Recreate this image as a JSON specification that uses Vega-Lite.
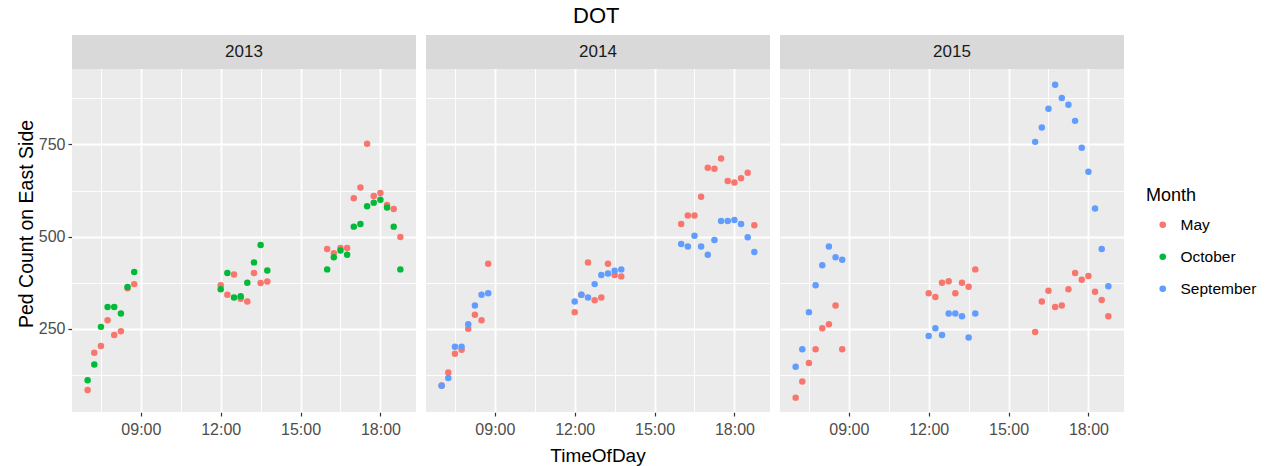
{
  "$schema": "https://vega.github.io/schema/vega-lite/v6.json",
  "padding": {"left": 16, "top": 5, "right": 5, "bottom": 0},
  "title": {"text": "DOT", "fontSize": 22, "font": "Liberation Sans", "fontWeight": "normal", "color": "#000000", "anchor": "start", "frame": "group", "dx": 501, "offset": 7},
  "config": {
    "font": "Liberation Sans",
    "view": {"fill": "#EBEBEB", "stroke": null},
    "axis": {"domain": false, "labelFont": "Liberation Sans", "titleFont": "Liberation Sans", "labelFontSize": 16, "labelColor": "#4D4D4D", "titleFontSize": 19.5, "titleColor": "#000000", "titleFontWeight": "normal", "tickSize": 4, "tickColor": "#333333", "tickWidth": 1.2, "gridColor": "#FFFFFF"},
    "legend": {"orient": "none", "legendX": 1074, "legendY": 152, "titleFontSize": 18, "titleFont": "Liberation Sans", "titleColor": "#000000", "titleFontWeight": "normal", "labelFontSize": 15.5, "labelFont": "Liberation Sans", "labelColor": "#000000", "symbolSize": 44, "symbolType": "circle", "rowPadding": 15, "symbolOffset": 9, "labelOffset": 10, "titlePadding": 12}
  },
  "data": {
    "format": {"parse": {"TimeOfDay": "date:'%H:%M'"}},
    "values": [
      {"Year": "2013", "Month": "May", "TimeOfDay": "07:00", "Count": 84},
      {"Year": "2013", "Month": "May", "TimeOfDay": "07:15", "Count": 185},
      {"Year": "2013", "Month": "May", "TimeOfDay": "07:30", "Count": 203},
      {"Year": "2013", "Month": "May", "TimeOfDay": "07:45", "Count": 273},
      {"Year": "2013", "Month": "May", "TimeOfDay": "08:00", "Count": 233},
      {"Year": "2013", "Month": "May", "TimeOfDay": "08:15", "Count": 243},
      {"Year": "2013", "Month": "May", "TimeOfDay": "08:30", "Count": 360},
      {"Year": "2013", "Month": "May", "TimeOfDay": "08:45", "Count": 371},
      {"Year": "2013", "Month": "May", "TimeOfDay": "12:00", "Count": 368},
      {"Year": "2013", "Month": "May", "TimeOfDay": "12:15", "Count": 342},
      {"Year": "2013", "Month": "May", "TimeOfDay": "12:30", "Count": 397},
      {"Year": "2013", "Month": "May", "TimeOfDay": "12:45", "Count": 331},
      {"Year": "2013", "Month": "May", "TimeOfDay": "13:00", "Count": 324},
      {"Year": "2013", "Month": "May", "TimeOfDay": "13:15", "Count": 401},
      {"Year": "2013", "Month": "May", "TimeOfDay": "13:30", "Count": 374},
      {"Year": "2013", "Month": "May", "TimeOfDay": "13:45", "Count": 378},
      {"Year": "2013", "Month": "May", "TimeOfDay": "16:00", "Count": 466},
      {"Year": "2013", "Month": "May", "TimeOfDay": "16:15", "Count": 455},
      {"Year": "2013", "Month": "May", "TimeOfDay": "16:30", "Count": 469},
      {"Year": "2013", "Month": "May", "TimeOfDay": "16:45", "Count": 469},
      {"Year": "2013", "Month": "May", "TimeOfDay": "17:00", "Count": 604},
      {"Year": "2013", "Month": "May", "TimeOfDay": "17:15", "Count": 633},
      {"Year": "2013", "Month": "May", "TimeOfDay": "17:30", "Count": 752},
      {"Year": "2013", "Month": "May", "TimeOfDay": "17:45", "Count": 610},
      {"Year": "2013", "Month": "May", "TimeOfDay": "18:00", "Count": 618},
      {"Year": "2013", "Month": "May", "TimeOfDay": "18:15", "Count": 586},
      {"Year": "2013", "Month": "May", "TimeOfDay": "18:30", "Count": 575},
      {"Year": "2013", "Month": "May", "TimeOfDay": "18:45", "Count": 499},
      {"Year": "2013", "Month": "October", "TimeOfDay": "07:00", "Count": 110},
      {"Year": "2013", "Month": "October", "TimeOfDay": "07:15", "Count": 153},
      {"Year": "2013", "Month": "October", "TimeOfDay": "07:30", "Count": 255},
      {"Year": "2013", "Month": "October", "TimeOfDay": "07:45", "Count": 309},
      {"Year": "2013", "Month": "October", "TimeOfDay": "08:00", "Count": 309},
      {"Year": "2013", "Month": "October", "TimeOfDay": "08:15", "Count": 291},
      {"Year": "2013", "Month": "October", "TimeOfDay": "08:30", "Count": 363},
      {"Year": "2013", "Month": "October", "TimeOfDay": "08:45", "Count": 404},
      {"Year": "2013", "Month": "October", "TimeOfDay": "12:00", "Count": 357},
      {"Year": "2013", "Month": "October", "TimeOfDay": "12:15", "Count": 401},
      {"Year": "2013", "Month": "October", "TimeOfDay": "12:30", "Count": 335},
      {"Year": "2013", "Month": "October", "TimeOfDay": "12:45", "Count": 338},
      {"Year": "2013", "Month": "October", "TimeOfDay": "13:00", "Count": 375},
      {"Year": "2013", "Month": "October", "TimeOfDay": "13:15", "Count": 430},
      {"Year": "2013", "Month": "October", "TimeOfDay": "13:30", "Count": 477},
      {"Year": "2013", "Month": "October", "TimeOfDay": "13:45", "Count": 408},
      {"Year": "2013", "Month": "October", "TimeOfDay": "16:00", "Count": 411},
      {"Year": "2013", "Month": "October", "TimeOfDay": "16:15", "Count": 444},
      {"Year": "2013", "Month": "October", "TimeOfDay": "16:30", "Count": 462},
      {"Year": "2013", "Month": "October", "TimeOfDay": "16:45", "Count": 451},
      {"Year": "2013", "Month": "October", "TimeOfDay": "17:00", "Count": 527},
      {"Year": "2013", "Month": "October", "TimeOfDay": "17:15", "Count": 534},
      {"Year": "2013", "Month": "October", "TimeOfDay": "17:30", "Count": 582},
      {"Year": "2013", "Month": "October", "TimeOfDay": "17:45", "Count": 592},
      {"Year": "2013", "Month": "October", "TimeOfDay": "18:00", "Count": 600},
      {"Year": "2013", "Month": "October", "TimeOfDay": "18:15", "Count": 579},
      {"Year": "2013", "Month": "October", "TimeOfDay": "18:30", "Count": 527},
      {"Year": "2013", "Month": "October", "TimeOfDay": "18:45", "Count": 411},
      {"Year": "2014", "Month": "May", "TimeOfDay": "07:00", "Count": 96},
      {"Year": "2014", "Month": "May", "TimeOfDay": "07:15", "Count": 131},
      {"Year": "2014", "Month": "May", "TimeOfDay": "07:30", "Count": 182},
      {"Year": "2014", "Month": "May", "TimeOfDay": "07:45", "Count": 193},
      {"Year": "2014", "Month": "May", "TimeOfDay": "08:00", "Count": 250},
      {"Year": "2014", "Month": "May", "TimeOfDay": "08:15", "Count": 288},
      {"Year": "2014", "Month": "May", "TimeOfDay": "08:30", "Count": 273},
      {"Year": "2014", "Month": "May", "TimeOfDay": "08:45", "Count": 426},
      {"Year": "2014", "Month": "May", "TimeOfDay": "12:00", "Count": 295},
      {"Year": "2014", "Month": "May", "TimeOfDay": "12:15", "Count": 342},
      {"Year": "2014", "Month": "May", "TimeOfDay": "12:30", "Count": 430},
      {"Year": "2014", "Month": "May", "TimeOfDay": "12:45", "Count": 327},
      {"Year": "2014", "Month": "May", "TimeOfDay": "13:00", "Count": 335},
      {"Year": "2014", "Month": "May", "TimeOfDay": "13:15", "Count": 426},
      {"Year": "2014", "Month": "May", "TimeOfDay": "13:30", "Count": 396},
      {"Year": "2014", "Month": "May", "TimeOfDay": "13:45", "Count": 392},
      {"Year": "2014", "Month": "May", "TimeOfDay": "16:00", "Count": 534},
      {"Year": "2014", "Month": "May", "TimeOfDay": "16:15", "Count": 557},
      {"Year": "2014", "Month": "May", "TimeOfDay": "16:30", "Count": 557},
      {"Year": "2014", "Month": "May", "TimeOfDay": "16:45", "Count": 608},
      {"Year": "2014", "Month": "May", "TimeOfDay": "17:00", "Count": 687},
      {"Year": "2014", "Month": "May", "TimeOfDay": "17:15", "Count": 684},
      {"Year": "2014", "Month": "May", "TimeOfDay": "17:30", "Count": 712},
      {"Year": "2014", "Month": "May", "TimeOfDay": "17:45", "Count": 651},
      {"Year": "2014", "Month": "May", "TimeOfDay": "18:00", "Count": 647},
      {"Year": "2014", "Month": "May", "TimeOfDay": "18:15", "Count": 658},
      {"Year": "2014", "Month": "May", "TimeOfDay": "18:30", "Count": 673},
      {"Year": "2014", "Month": "May", "TimeOfDay": "18:45", "Count": 531},
      {"Year": "2014", "Month": "September", "TimeOfDay": "07:00", "Count": 95},
      {"Year": "2014", "Month": "September", "TimeOfDay": "07:15", "Count": 116},
      {"Year": "2014", "Month": "September", "TimeOfDay": "07:30", "Count": 201},
      {"Year": "2014", "Month": "September", "TimeOfDay": "07:45", "Count": 201},
      {"Year": "2014", "Month": "September", "TimeOfDay": "08:00", "Count": 262},
      {"Year": "2014", "Month": "September", "TimeOfDay": "08:15", "Count": 313},
      {"Year": "2014", "Month": "September", "TimeOfDay": "08:30", "Count": 342},
      {"Year": "2014", "Month": "September", "TimeOfDay": "08:45", "Count": 346},
      {"Year": "2014", "Month": "September", "TimeOfDay": "12:00", "Count": 324},
      {"Year": "2014", "Month": "September", "TimeOfDay": "12:15", "Count": 342},
      {"Year": "2014", "Month": "September", "TimeOfDay": "12:30", "Count": 335},
      {"Year": "2014", "Month": "September", "TimeOfDay": "12:45", "Count": 371},
      {"Year": "2014", "Month": "September", "TimeOfDay": "13:00", "Count": 396},
      {"Year": "2014", "Month": "September", "TimeOfDay": "13:15", "Count": 400},
      {"Year": "2014", "Month": "September", "TimeOfDay": "13:30", "Count": 407},
      {"Year": "2014", "Month": "September", "TimeOfDay": "13:45", "Count": 411},
      {"Year": "2014", "Month": "September", "TimeOfDay": "16:00", "Count": 480},
      {"Year": "2014", "Month": "September", "TimeOfDay": "16:15", "Count": 473},
      {"Year": "2014", "Month": "September", "TimeOfDay": "16:30", "Count": 502},
      {"Year": "2014", "Month": "September", "TimeOfDay": "16:45", "Count": 473},
      {"Year": "2014", "Month": "September", "TimeOfDay": "17:00", "Count": 451},
      {"Year": "2014", "Month": "September", "TimeOfDay": "17:15", "Count": 491},
      {"Year": "2014", "Month": "September", "TimeOfDay": "17:30", "Count": 542},
      {"Year": "2014", "Month": "September", "TimeOfDay": "17:45", "Count": 542},
      {"Year": "2014", "Month": "September", "TimeOfDay": "18:00", "Count": 545},
      {"Year": "2014", "Month": "September", "TimeOfDay": "18:15", "Count": 534},
      {"Year": "2014", "Month": "September", "TimeOfDay": "18:30", "Count": 498},
      {"Year": "2014", "Month": "September", "TimeOfDay": "18:45", "Count": 458},
      {"Year": "2015", "Month": "May", "TimeOfDay": "07:00", "Count": 63},
      {"Year": "2015", "Month": "May", "TimeOfDay": "07:15", "Count": 107},
      {"Year": "2015", "Month": "May", "TimeOfDay": "07:30", "Count": 157},
      {"Year": "2015", "Month": "May", "TimeOfDay": "07:45", "Count": 194},
      {"Year": "2015", "Month": "May", "TimeOfDay": "08:00", "Count": 251},
      {"Year": "2015", "Month": "May", "TimeOfDay": "08:15", "Count": 262},
      {"Year": "2015", "Month": "May", "TimeOfDay": "08:30", "Count": 313},
      {"Year": "2015", "Month": "May", "TimeOfDay": "08:45", "Count": 194},
      {"Year": "2015", "Month": "May", "TimeOfDay": "12:00", "Count": 346},
      {"Year": "2015", "Month": "May", "TimeOfDay": "12:15", "Count": 336},
      {"Year": "2015", "Month": "May", "TimeOfDay": "12:30", "Count": 375},
      {"Year": "2015", "Month": "May", "TimeOfDay": "12:45", "Count": 379},
      {"Year": "2015", "Month": "May", "TimeOfDay": "13:00", "Count": 346},
      {"Year": "2015", "Month": "May", "TimeOfDay": "13:15", "Count": 375},
      {"Year": "2015", "Month": "May", "TimeOfDay": "13:30", "Count": 364},
      {"Year": "2015", "Month": "May", "TimeOfDay": "13:45", "Count": 411},
      {"Year": "2015", "Month": "May", "TimeOfDay": "16:00", "Count": 241},
      {"Year": "2015", "Month": "May", "TimeOfDay": "16:15", "Count": 324},
      {"Year": "2015", "Month": "May", "TimeOfDay": "16:30", "Count": 353},
      {"Year": "2015", "Month": "May", "TimeOfDay": "16:45", "Count": 309},
      {"Year": "2015", "Month": "May", "TimeOfDay": "17:00", "Count": 313},
      {"Year": "2015", "Month": "May", "TimeOfDay": "17:15", "Count": 357},
      {"Year": "2015", "Month": "May", "TimeOfDay": "17:30", "Count": 401},
      {"Year": "2015", "Month": "May", "TimeOfDay": "17:45", "Count": 383},
      {"Year": "2015", "Month": "May", "TimeOfDay": "18:00", "Count": 393},
      {"Year": "2015", "Month": "May", "TimeOfDay": "18:15", "Count": 350},
      {"Year": "2015", "Month": "May", "TimeOfDay": "18:30", "Count": 328},
      {"Year": "2015", "Month": "May", "TimeOfDay": "18:45", "Count": 284},
      {"Year": "2015", "Month": "September", "TimeOfDay": "07:00", "Count": 147},
      {"Year": "2015", "Month": "September", "TimeOfDay": "07:15", "Count": 194},
      {"Year": "2015", "Month": "September", "TimeOfDay": "07:30", "Count": 295},
      {"Year": "2015", "Month": "September", "TimeOfDay": "07:45", "Count": 368},
      {"Year": "2015", "Month": "September", "TimeOfDay": "08:00", "Count": 422},
      {"Year": "2015", "Month": "September", "TimeOfDay": "08:15", "Count": 473},
      {"Year": "2015", "Month": "September", "TimeOfDay": "08:30", "Count": 444},
      {"Year": "2015", "Month": "September", "TimeOfDay": "08:45", "Count": 437},
      {"Year": "2015", "Month": "September", "TimeOfDay": "12:00", "Count": 230},
      {"Year": "2015", "Month": "September", "TimeOfDay": "12:15", "Count": 251},
      {"Year": "2015", "Month": "September", "TimeOfDay": "12:30", "Count": 233},
      {"Year": "2015", "Month": "September", "TimeOfDay": "12:45", "Count": 291},
      {"Year": "2015", "Month": "September", "TimeOfDay": "13:00", "Count": 291},
      {"Year": "2015", "Month": "September", "TimeOfDay": "13:15", "Count": 284},
      {"Year": "2015", "Month": "September", "TimeOfDay": "13:30", "Count": 226},
      {"Year": "2015", "Month": "September", "TimeOfDay": "13:45", "Count": 291},
      {"Year": "2015", "Month": "September", "TimeOfDay": "16:00", "Count": 757},
      {"Year": "2015", "Month": "September", "TimeOfDay": "16:15", "Count": 796},
      {"Year": "2015", "Month": "September", "TimeOfDay": "16:30", "Count": 847},
      {"Year": "2015", "Month": "September", "TimeOfDay": "16:45", "Count": 912},
      {"Year": "2015", "Month": "September", "TimeOfDay": "17:00", "Count": 876},
      {"Year": "2015", "Month": "September", "TimeOfDay": "17:15", "Count": 858},
      {"Year": "2015", "Month": "September", "TimeOfDay": "17:30", "Count": 814},
      {"Year": "2015", "Month": "September", "TimeOfDay": "17:45", "Count": 741},
      {"Year": "2015", "Month": "September", "TimeOfDay": "18:00", "Count": 676},
      {"Year": "2015", "Month": "September", "TimeOfDay": "18:15", "Count": 576},
      {"Year": "2015", "Month": "September", "TimeOfDay": "18:30", "Count": 466},
      {"Year": "2015", "Month": "September", "TimeOfDay": "18:45", "Count": 365}
    ]
  },
  "facet": {"column": {"field": "Year", "type": "nominal", "title": "TimeOfDay", "header": {"labels": false, "titleOrient": "bottom", "titleFont": "Liberation Sans", "titleFontSize": 19, "titleFontWeight": "normal", "titleColor": "#000000", "titlePadding": 0}}},
  "spacing": 10,
  "spec": {
    "width": 344,
    "height": 377,
    "layer": [
      {
        "mark": {"type": "circle", "size": 42, "opacity": 1},
        "encoding": {
          "x": {
            "field": "TimeOfDay", "type": "temporal", "title": null,
            "scale": {"domain": [{"year": 1900, "month": 1, "date": 1, "hours": 6, "minutes": 24, "seconds": 45}, {"year": 1900, "month": 1, "date": 1, "hours": 19, "minutes": 20, "seconds": 15}], "nice": false},
            "axis": {
              "values": [
                {"year": 1900, "month": 1, "date": 1, "hours": 7, "minutes": 30},
                {"year": 1900, "month": 1, "date": 1, "hours": 9, "minutes": 0},
                {"year": 1900, "month": 1, "date": 1, "hours": 10, "minutes": 30},
                {"year": 1900, "month": 1, "date": 1, "hours": 12, "minutes": 0},
                {"year": 1900, "month": 1, "date": 1, "hours": 13, "minutes": 30},
                {"year": 1900, "month": 1, "date": 1, "hours": 15, "minutes": 0},
                {"year": 1900, "month": 1, "date": 1, "hours": 16, "minutes": 30},
                {"year": 1900, "month": 1, "date": 1, "hours": 18, "minutes": 0}
              ],
              "labelExpr": "minutes(datum.value) == 30 ? '' : timeFormat(datum.value, '%H:%M')",
              "gridWidth": {"condition": {"test": "minutes(datum.value) == 30", "value": 0.9}, "value": 1.8},
              "tickOpacity": {"condition": {"test": "minutes(datum.value) == 30", "value": 0}, "value": 1},
              "labelPadding": 5
            }
          },
          "y": {
            "field": "Count", "type": "quantitative", "title": "Ped Count on East Side",
            "scale": {"domain": [24, 1047], "nice": false, "zero": false},
            "axis": {
              "values": [125, 250, 375, 500, 625, 750, 875],
              "labelExpr": "datum.value % 250 == 0 ? datum.label : ''",
              "gridWidth": {"condition": {"test": "datum.value % 250 != 0", "value": 0.9}, "value": 1.8},
              "tickOpacity": {"condition": {"test": "datum.value % 250 != 0", "value": 0}, "value": 1},
              "labelPadding": 3,
              "titlePadding": 2
            }
          },
          "color": {
            "field": "Month", "type": "nominal", "title": "Month",
            "scale": {"domain": ["May", "October", "September"], "range": ["#F8766D", "#00BA38", "#619CFF"]}
          }
        }
      },
      {
        "transform": [{"aggregate": [{"op": "count", "as": "n"}], "groupby": ["Year"]}],
        "mark": {"type": "rect", "fill": "#D9D9D9"},
        "encoding": {
          "x": {"datum": {"year": 1900, "month": 1, "date": 1, "hours": 6, "minutes": 24, "seconds": 45}, "type": "temporal", "title": null},
          "x2": {"datum": {"year": 1900, "month": 1, "date": 1, "hours": 19, "minutes": 20, "seconds": 15}},
          "y": {"datum": 955, "type": "quantitative", "title": "Ped Count on East Side"},
          "y2": {"datum": 1047}
        }
      },
      {
        "transform": [{"aggregate": [{"op": "count", "as": "n"}], "groupby": ["Year"]}],
        "mark": {"type": "text", "fontSize": 17, "font": "Liberation Sans", "color": "#1A1A1A", "baseline": "middle", "align": "center"},
        "encoding": {
          "x": {"datum": {"year": 1900, "month": 1, "date": 1, "hours": 12, "minutes": 52, "seconds": 30}, "type": "temporal", "title": null},
          "y": {"datum": 1001, "type": "quantitative", "title": "Ped Count on East Side"},
          "text": {"field": "Year", "type": "nominal"}
        }
      }
    ]
  }
}
